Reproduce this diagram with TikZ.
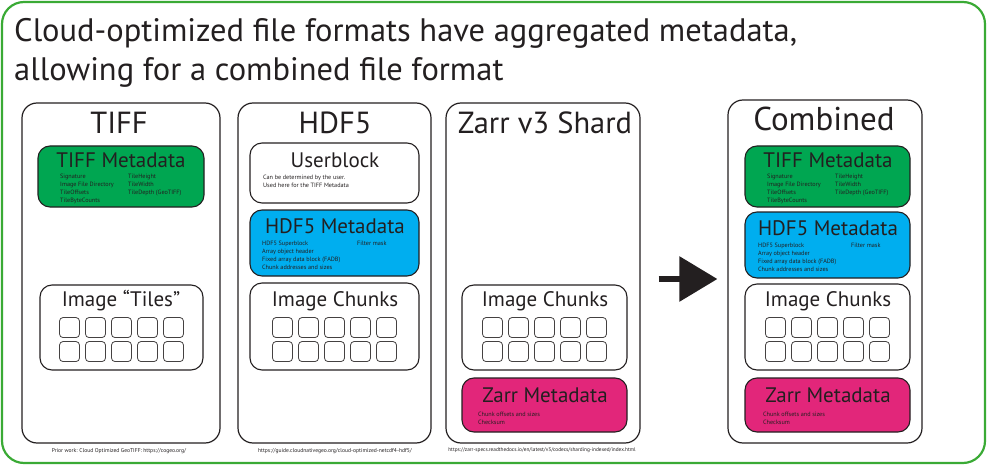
\documentclass[tikz,border=0pt]{standalone}
\usepackage{fontspec}
\setmainfont{PT Sans}
\usetikzlibrary{arrows.meta,positioning}
\definecolor{ink}{HTML}{231F20}
\definecolor{rimgreen}{HTML}{3AAA35}
\definecolor{tiffgreen}{HTML}{00A651}
\definecolor{hdfblue}{HTML}{00AEEF}
\definecolor{zarrpink}{HTML}{E2267A}
% 2 x 5 grid of tiles, sitting at the bottom of a box
\newcommand{\cellgrid}[1]{%
  \foreach \i in {0,...,4}{\foreach \j in {0,1}{%
    \node[cell] (#1-\i-\j) at ([xshift={(\i-2)*26pt},yshift={19pt+\j*24pt}]#1.south) {};}}}

\begin{document}
\begin{tikzpicture}[x=1pt,y=-1pt,inner sep=0pt,text=ink]
  \tikzstyle{frame}=[draw=ink,line width=1.2pt,rounded corners=15pt]
  \tikzstyle{part}=[draw=ink,line width=1.1pt,rounded corners=12pt]
  \tikzstyle{cell}=[draw=ink!85,line width=0.8pt,rounded corners=3.5pt,minimum size=20pt]
  \tikzstyle{big}=[font=\fontsize{32.5}{38.5}\selectfont,anchor=base west]
  \tikzstyle{head}=[font=\fontsize{30.5}{32}\selectfont,anchor=base]
  \tikzstyle{sub}=[font=\fontsize{21}{23}\selectfont,anchor=base]
  \tikzstyle{fine}=[font=\fontsize{6.2}{8}\selectfont,align=left,anchor=north west]
  \tikzstyle{note}=[font=\fontsize{5.6}{6}\selectfont]
  \useasboundingbox (0,0) rectangle (988,468);
  \draw[rimgreen,line width=2.2pt,rounded corners=22pt] (2,2) rectangle (985,463);
  \node[big] (title) at (14,41.7) {Cloud-optimized file formats have aggregated metadata,};
  \node[big] (title2) at (14,80.2) {allowing for a combined file format};

  % columns
  \node[frame,minimum width=198pt,minimum height=340pt] (tiff) at (121,273) {};
  \node[frame,minimum width=193pt,minimum height=340pt] (hdf) at (334.5,273) {};
  \node[frame,minimum width=194pt,minimum height=340pt] (zarr) at (543,273) {};
  \node[frame,minimum width=194pt,minimum height=343pt] (comb) at (825,271.5) {};
  \node[head] (tiffhead) at (119,134) {TIFF};
  \node[head] (hdfhead) at (335,134) {HDF5};
  \node[head] (zarrhead) at (545,134) {Zarr v3 Shard};
  \node[head,font=\fontsize{33}{34}\selectfont] (combhead) at (824,131) {Combined};

  % TIFF
  \node[part,fill=tiffgreen,minimum width=166pt,minimum height=61pt] (tiffmeta) at (121,176.5) {};
  \node[sub] (tiffmetattl) at (121,167.5) {TIFF Metadata};
  \node[fine] (tiffmetaa) at (60,174) {Signature\\Image File Directory\\TileOffsets\\TileByteCounts};
  \node[fine] (tiffmetab) at (128,174) {TileHeight\\TileWidth\\TileDepth (GeoTIFF)};
  \node[part,minimum width=163pt,minimum height=85pt] (tiles) at (121.5,327.5) {};
  \node[sub] (tilesttl) at (121,306.5) {Image “Tiles”};
  \cellgrid{tiles}

  % HDF5
  \node[part,minimum width=169pt,minimum height=60pt] (ublock) at (334.5,173) {};
  \node[sub] (ublockttl) at (335,167.5) {Userblock};
  \node[fine] (ublocktxt) at (263,175) {Can be determined by the user.\\Used here for the TIFF Metadata};
  \node[part,fill=hdfblue,minimum width=169pt,minimum height=66pt] (hdfmeta) at (334.5,243) {};
  \node[sub] (hdfmetattl) at (335,233.5) {HDF5 Metadata};
  \node[fine] (hdfmetaa) at (262,240.5) {HDF5 Superblock\\Array object header\\Fixed array data block (FADB)\\Chunk addresses and sizes};
  \node[fine] (hdfmetab) at (357,240.5) {Filter mask};
  \node[part,minimum width=169pt,minimum height=87pt] (hdfchunks) at (334.5,326.5) {};
  \node[sub] (hdfchunksttl) at (335,306.5) {Image Chunks};
  \cellgrid{hdfchunks}

  % Zarr
  \node[part,minimum width=165pt,minimum height=85pt] (zchunks) at (544.5,327.5) {};
  \node[sub] (zchunksttl) at (545,306.5) {Image Chunks};
  \cellgrid{zchunks}
  \node[part,fill=zarrpink,minimum width=165pt,minimum height=54pt] (zmeta) at (544.5,405) {};
  \node[sub] (zmetattl) at (545,402.5) {Zarr Metadata};
  \node[fine] (zmetatxt) at (478,411.5) {Chunk offsets and sizes\\Checksum};

  % Combined
  \node[part,fill=tiffgreen,minimum width=165pt,minimum height=61pt] (ctiff) at (827.5,176.5) {};
  \node[sub] (ctiffttl) at (828,167.5) {TIFF Metadata};
  \node[fine] (ctiffa) at (767,174) {Signature\\Image File Directory\\TileOffsets\\TileByteCounts};
  \node[fine] (ctiffb) at (835,174) {TileHeight\\TileWidth\\TileDepth (GeoTIFF)};
  \node[part,fill=hdfblue,minimum width=165pt,minimum height=66pt] (chdf) at (827.5,245) {};
  \node[sub] (chdfttl) at (828,235.5) {HDF5 Metadata};
  \node[fine] (chdfa) at (758,242.5) {HDF5 Superblock\\Array object header\\Fixed array data block (FADB)\\Chunk addresses and sizes};
  \node[fine] (chdfb) at (851,242.5) {Filter mask};
  \node[part,minimum width=165pt,minimum height=86pt] (cchunks) at (827.5,327) {};
  \node[sub] (cchunksttl) at (828,306.5) {Image Chunks};
  \cellgrid{cchunks}
  \node[part,fill=zarrpink,minimum width=165pt,minimum height=54pt] (czarr) at (827.5,405) {};
  \node[sub] (czarrttl) at (828,402.5) {Zarr Metadata};
  \node[fine] (czarrtxt) at (763,411.5) {Chunk offsets and sizes\\Checksum};

  % sources
  \node[note] (tiffsrc) at (119,451) {Prior work: Cloud Optimized GeoTIFF: https://cogeo.org/};
  \node[note] (hdfsrc) at (335,451) {https://guide.cloudnativegeo.org/cloud-optimized-netcdf4-hdf5/};
  \node[note,font=\fontsize{5.3}{6}\selectfont] (zarrsrc) at (542,450) {https://zarr-specs.readthedocs.io/en/latest/v3/codecs/sharding-indexed/index.html};

  \coordinate (arrowlvl) at (0,279);
  \draw[ink,line width=6pt,-{Triangle[length=38pt,width=44pt]},shorten <=18pt,shorten >=10pt]
    (zarr.east |- arrowlvl) -- (comb.west |- arrowlvl);
\end{tikzpicture}
\end{document}
